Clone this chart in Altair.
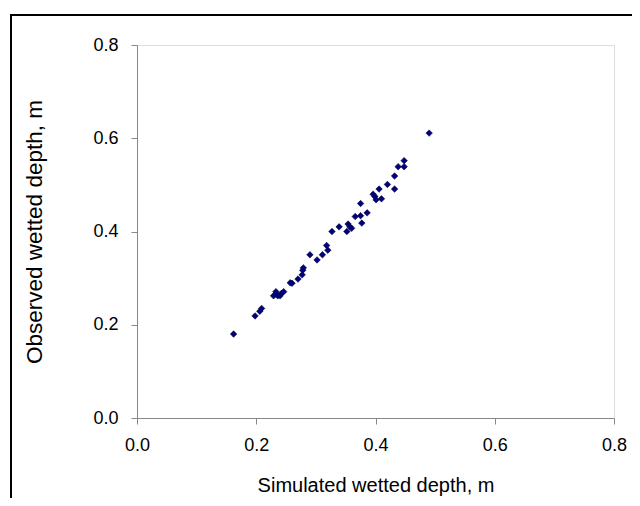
import altair as alt
import pandas as pd

simulated = [0.162, 0.198, 0.206, 0.209, 0.229, 0.233, 0.236, 0.240, 0.242, 0.246,
             0.257, 0.260, 0.270, 0.277, 0.278, 0.279, 0.290, 0.302, 0.311, 0.318,
             0.320, 0.327, 0.339, 0.352, 0.354, 0.357, 0.360, 0.366, 0.375, 0.375,
             0.377, 0.386, 0.396, 0.399, 0.401, 0.406, 0.410, 0.420, 0.432, 0.432,
             0.438, 0.448, 0.448, 0.490]
observed = [0.180, 0.219, 0.229, 0.235, 0.262, 0.271, 0.262, 0.262, 0.267, 0.271,
            0.290, 0.289, 0.298, 0.307, 0.317, 0.322, 0.350, 0.339, 0.350, 0.370,
            0.360, 0.400, 0.410, 0.400, 0.416, 0.410, 0.407, 0.432, 0.434, 0.460,
            0.418, 0.440, 0.480, 0.475, 0.468, 0.491, 0.470, 0.501, 0.519, 0.491,
            0.539, 0.552, 0.539, 0.611]
tick_values = [0.0, 0.2, 0.4, 0.6, 0.8]

df = pd.DataFrame({"sim": simulated, "obs": observed})

FONT = "Liberation Sans, Arial, sans-serif"
W, H = 477, 373

points = alt.Chart(df).mark_point(
    shape="diamond", filled=True, size=42, color="#000080",
    stroke="#000033", strokeWidth=0.6, opacity=1
).encode(
    x=alt.X("sim:Q", scale=alt.Scale(domain=[0, 0.8], nice=False),
            axis=alt.Axis(values=tick_values, format=".1f", grid=False,
                          labelFlush=False,
                          title="Simulated wetted depth, m",
                          labelFontSize=18, titleFontSize=20,
                          labelPadding=12, tickSize=6,
                          titleBaseline="middle", titleY=67,
                          titleFontWeight="normal")),
    y=alt.Y("obs:Q", scale=alt.Scale(domain=[0, 0.8], nice=False),
            axis=alt.Axis(values=tick_values, format=".1f", grid=False,
                          labelFlush=False,
                          title="Observed wetted depth, m",
                          labelFontSize=18, titleFontSize=22.5,
                          labelPadding=13, tickSize=6,
                          titleBaseline="middle", titleX=-103,
                          titleY=H / 2, titleAngle=270, titleAlign="center",
                          titleFontWeight="normal")),
)

frame = alt.Chart(alt.Data(values=[{}])).mark_rect(
    fillOpacity=0, stroke="black", strokeWidth=2
).encode(
    x=alt.value(-126), x2=alt.value(W + 60),
    y=alt.value(-30), y2=alt.value(H + 200),
)

chart = alt.layer(frame, points).properties(
    width=W, height=H,
    autosize=alt.AutoSizeParams(type="none"),
    padding={"left": 129, "top": 37, "right": 18, "bottom": 80},
).configure_view(stroke=None).configure_axis(
    grid=False, domainColor="black", domainWidth=1, tickColor="black",
    tickWidth=1, labelColor="#2a2a2a", titleColor="#2a2a2a",
    labelFont=FONT, titleFont=FONT,
).configure(background="white")

chart.save("out.html", embed_options={"renderer": "svg", "actions": False})
